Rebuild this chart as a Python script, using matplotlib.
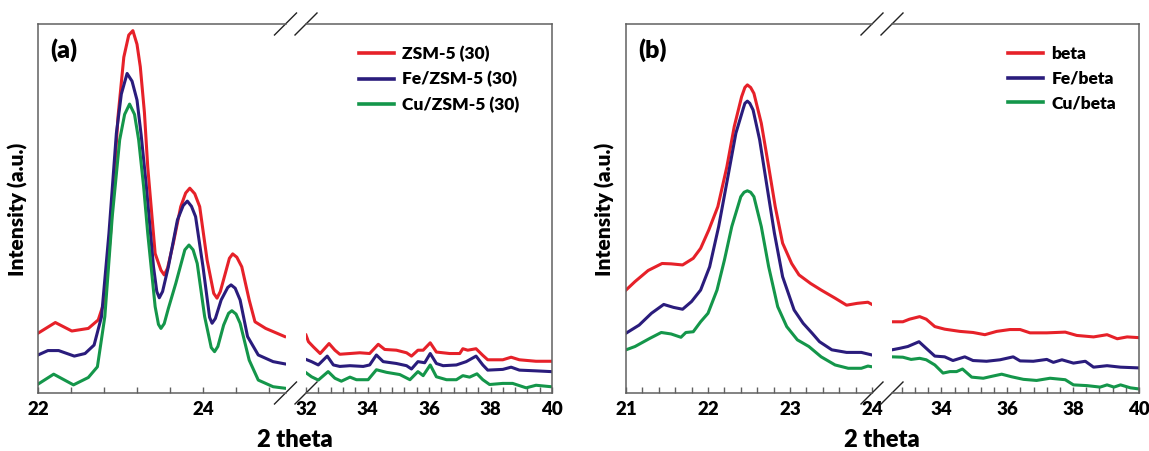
import matplotlib
matplotlib.use("Agg")
import matplotlib.pyplot as plt
from matplotlib.ticker import MultipleLocator, FixedLocator

# ---------------- data: panel (a) ZSM-5 ----------------
a_left_x_red = [22.0, 22.21, 22.41, 22.61, 22.73, 22.81, 22.88, 22.97, 23.04, 23.10, 23.15, 23.20, 23.24,
                23.29, 23.33, 23.42, 23.49, 23.53, 23.57, 23.64, 23.73, 23.79, 23.84, 23.90, 23.96,
                24.05, 24.13, 24.17, 24.21, 24.27, 24.32, 24.36, 24.41, 24.47, 24.56, 24.63, 24.76, 24.99]
a_left_y_red = [16.2, 19.1, 16.8, 17.5, 19.8, 25.2, 43.3, 74.9, 91.0, 97.0, 98.2, 94.5, 88.4,
                76.0, 61.3, 37.8, 33.3, 32.0, 33.8, 40.6, 50.5, 54.2, 55.5, 54.0, 50.5,
                36.0, 27.0, 25.7, 27.5, 32.4, 36.5, 37.7, 36.8, 34.2, 25.2, 19.3, 17.5, 15.3]
a_left_x_fe = [22.0, 22.12, 22.25, 22.44, 22.57, 22.68, 22.77, 22.86, 22.95, 23.01, 23.08, 23.14, 23.2,
               23.25, 23.31, 23.40, 23.44, 23.47, 23.51, 23.58, 23.69, 23.76, 23.81, 23.86, 23.91,
               24.0, 24.08, 24.11, 24.15, 24.22, 24.30, 24.34, 24.39, 24.45, 24.54, 24.67, 24.85, 24.99]
a_left_y_fe = [10.3, 11.5, 11.5, 10.0, 10.7, 13.0, 20.7, 43.3, 70.4, 81.0, 86.6, 84.5, 79.4,
               70.0, 56.8, 34.2, 27.5, 25.8, 27.5, 34.2, 46.9, 50.8, 52.0, 50.6, 47.8,
               34.2, 20.5, 18.9, 20.2, 25.2, 28.6, 29.3, 28.4, 25.2, 15.3, 10.3, 8.5, 7.9]
a_left_x_cu = [22.0, 22.19, 22.43, 22.61, 22.72, 22.81, 22.9, 22.99, 23.05, 23.11, 23.17, 23.22, 23.28,
               23.33, 23.42, 23.46, 23.49, 23.53, 23.58, 23.67, 23.78, 23.83, 23.88, 23.93,
               24.02, 24.10, 24.14, 24.18, 24.25, 24.31, 24.35, 24.40, 24.45, 24.56, 24.67, 24.85, 24.99]
a_left_y_cu = [2.4, 5.1, 2.2, 4.2, 7.1, 20.7, 47.8, 68.6, 75.5, 78.3, 75.5, 68.6, 56.0,
               43.3, 23.4, 18.6, 17.5, 18.8, 22.9, 29.7, 38.8, 40.1, 38.8, 35.1,
               20.7, 12.3, 11.2, 12.6, 18.4, 21.6, 22.3, 21.4, 18.9, 8.9, 3.5, 1.7, 1.3]

a_right_x_red = [32.0, 32.08, 32.24, 32.46, 32.75, 32.94, 33.1, 33.43, 33.75, 34.07, 34.35, 34.56, 34.94,
                 35.27, 35.43, 35.64, 35.81, 36.04, 36.24, 36.67, 37.0, 37.1, 37.26, 37.53, 37.75, 37.91,
                 38.4, 38.67, 38.94, 39.48, 39.97]
a_right_y_red = [15.7, 13.9, 12.5, 10.7, 13.4, 11.6, 10.5, 10.7, 10.9, 10.7, 13.2, 11.8, 11.6,
                 10.9, 10.0, 11.6, 11.6, 13.6, 11.1, 10.7, 10.7, 12.0, 11.6, 12.0, 10.2, 9.0,
                 9.0, 9.7, 9.0, 8.6, 8.6]
a_right_x_fe = [32.0, 32.18, 32.4, 32.69, 32.89, 33.1, 33.43, 33.86, 34.07, 34.29, 34.51, 34.94, 35.27,
                35.43, 35.64, 35.86, 36.04, 36.24, 36.46, 36.89, 37.21, 37.53, 37.75, 37.91, 38.4,
                38.67, 38.94, 39.48, 39.97]
a_right_y_fe = [9.1, 8.5, 7.6, 10.0, 7.6, 7.2, 7.4, 7.2, 7.6, 10.3, 8.5, 8.0, 7.4,
                6.5, 8.5, 8.2, 10.7, 8.0, 7.4, 7.6, 8.5, 10.0, 7.6, 6.2, 6.4,
                7.0, 6.2, 6.0, 5.8]
a_right_x_cu = [32.0, 32.18, 32.4, 32.72, 32.94, 33.15, 33.43, 33.64, 34.02, 34.29, 34.62, 35.05, 35.38,
                35.64, 35.81, 36.04, 36.24, 36.57, 36.89, 37.1, 37.32, 37.56, 37.75, 37.97, 38.4,
                38.72, 39.16, 39.48, 39.97]
a_right_y_cu = [5.5, 4.4, 3.5, 5.8, 4.0, 3.2, 4.3, 3.6, 3.6, 6.3, 5.6, 5.0, 3.6,
                5.8, 4.7, 7.6, 4.4, 3.6, 3.6, 4.7, 4.3, 5.2, 3.6, 2.3, 2.6,
                2.6, 1.4, 2.1, 1.7]

# ---------------- data: panel (b) beta ----------------
b_left_x_red = [21.0, 21.11, 21.27, 21.44, 21.55, 21.69, 21.82, 21.91, 22.01, 22.12, 22.23, 22.32, 22.41,
                22.45, 22.48, 22.52, 22.56, 22.65, 22.74, 22.82, 22.91, 23.02, 23.11, 23.25, 23.38,
                23.55, 23.69, 23.82, 23.95, 24.0]
b_left_y_red = [27.9, 30.2, 33.2, 35.1, 35.0, 34.7, 36.5, 39.2, 44.2, 50.5, 61.3, 72.2, 80.3,
                82.8, 83.5, 82.8, 81.2, 73.1, 61.3, 50.5, 40.6, 35.1, 32.0, 29.7, 27.9,
                25.7, 23.8, 24.3, 24.6, 24.0]
b_left_x_fe = [21.0, 21.16, 21.31, 21.46, 21.58, 21.69, 21.8, 21.91, 22.02, 22.13, 22.25, 22.34, 22.43,
               22.45, 22.48, 22.51, 22.55, 22.63, 22.72, 22.81, 22.91, 23.05, 23.16, 23.27, 23.36,
               23.51, 23.69, 23.87, 24.0]
b_left_y_fe = [16.2, 18.4, 21.6, 24.0, 23.2, 22.7, 24.8, 27.9, 34.2, 45.1, 59.5, 70.4, 77.1,
               78.5, 79.1, 78.5, 76.7, 68.6, 55.9, 43.3, 31.5, 22.5, 18.9, 16.2, 13.9,
               11.7, 11.0, 11.0, 10.3]
b_left_x_cu = [21.0, 21.11, 21.29, 21.43, 21.55, 21.67, 21.73, 21.82, 21.91, 22.0, 22.11, 22.2, 22.29,
               22.40, 22.44, 22.48, 22.52, 22.56, 22.65, 22.74, 22.85, 22.96, 23.09, 23.23, 23.38,
               23.55, 23.71, 23.87, 23.95, 24.0]
b_left_y_cu = [11.7, 12.6, 14.8, 16.4, 16.0, 15.1, 16.4, 16.6, 19.3, 21.6, 27.9, 36.0, 45.1,
               53.2, 54.4, 54.8, 54.4, 53.2, 45.1, 34.2, 23.4, 18.0, 14.4, 12.6, 9.8,
               7.6, 6.7, 6.7, 7.3, 7.1]

b_right_x_red = [32.5, 32.83, 33.03, 33.34, 33.54, 33.80, 34.1, 34.56, 34.96, 35.32, 35.68, 36.08, 36.39,
                 36.69, 37.2, 37.76, 38.11, 38.62, 39.03, 39.34, 39.64, 40.0]
b_right_y_red = [19.3, 19.3, 20.0, 20.7, 20.0, 18.0, 17.3, 16.7, 16.4, 15.8, 16.7, 17.2, 17.2,
                 16.3, 16.3, 16.5, 15.6, 15.2, 15.8, 14.7, 15.2, 15.0]
b_right_x_fe = [32.5, 32.73, 32.98, 33.32, 33.54, 33.8, 34.1, 34.35, 34.71, 34.96, 35.37, 35.78, 36.18,
                36.39, 36.79, 37.2, 37.40, 37.66, 38.01, 38.37, 38.62, 39.03, 39.44, 40.0]
b_right_y_fe = [11.7, 12.1, 12.6, 13.9, 12.1, 10.0, 9.8, 8.8, 9.8, 8.8, 8.6, 9.0, 9.8,
                8.7, 8.6, 9.1, 8.3, 9.0, 8.1, 8.6, 7.0, 7.4, 7.0, 6.8]
b_right_x_cu = [32.5, 32.83, 33.08, 33.34, 33.54, 33.8, 34.05, 34.26, 34.46, 34.64, 34.92, 35.27, 35.57,
                35.83, 36.13, 36.49, 36.89, 37.3, 37.76, 38.01, 38.42, 38.82, 39.03, 39.24, 39.44,
                39.74, 40.0]
b_right_y_cu = [9.8, 9.7, 9.1, 9.4, 9.0, 7.6, 5.4, 5.8, 5.8, 6.5, 4.3, 4.0, 4.6,
                5.1, 4.4, 3.7, 3.4, 4.0, 3.6, 2.2, 2.0, 1.6, 2.2, 1.6, 2.2,
                1.4, 1.1]

labels_a = ["ZSM-5 (30)", "Fe/ZSM-5 (30)", "Cu/ZSM-5 (30)"]
labels_b = ["beta", "Fe/beta", "Cu/beta"]
a_left_ticks = [22, 24]
a_right_ticks = [32, 34, 36, 38, 40]
b_left_ticks = [21, 22, 23, 24]
b_right_ticks = [34, 36, 38, 40]

colors = ["#e62129", "#2a1c7c", "#14964a"]
FONT = "Lato"
SPINE = "#606060"

W, H = 1149, 451
fig = plt.figure(figsize=(W / 100, H / 100), dpi=100)

def px_rect(x0, x1, ytop=24, ybot=393):
    return [x0 / W, 1 - ybot / H, (x1 - x0) / W, (ybot - ytop) / H]

def style_ax(ax, xlim, ticks, minor, side):
    ax.set_xlim(*xlim)
    ax.set_ylim(0, 100)
    ax.set_yticks([])
    ax.xaxis.set_major_locator(FixedLocator(ticks))
    ax.xaxis.set_minor_locator(MultipleLocator(minor))
    ax.tick_params(axis="x", which="both", direction="in", length=4, width=1,
                   color=SPINE, pad=6, labelsize=13.5)
    for lab in ax.get_xticklabels():
        lab.set_fontfamily(FONT)
        lab.set_fontweight("heavy")
    for s in ax.spines.values():
        s.set_color(SPINE)
        s.set_linewidth(1.1)
    ax.spines[side].set_visible(False)
    ax.patch.set_alpha(0)

def breaks(ax, xpos, wpx):
    dx = 11 / wpx
    dy = 11 / 369
    for yy in (0, 1):
        ax.plot([xpos - dx, xpos + dx], [yy - dy, yy + dy], transform=ax.transAxes,
                color="#222222", lw=1.0, clip_on=False)

def panel(lrect, rrect, lxlim, rxlim, lticks, rticks, lminor, rminor,
          lx, ly, rx, ry, labels, tag, leg_x, label_cx, ylab_x):
    axl = fig.add_axes(px_rect(*lrect))
    axr = fig.add_axes(px_rect(*rrect))
    for i in range(3):
        axl.plot(lx[i], ly[i], color=colors[i], lw=2.2, solid_joinstyle="round")
        axr.plot(rx[i], ry[i], color=colors[i], lw=2.2, solid_joinstyle="round", label=labels[i])
    style_ax(axl, lxlim, lticks, lminor, "right")
    style_ax(axr, rxlim, rticks, rminor, "left")
    breaks(axl, 1, lrect[1] - lrect[0])
    breaks(axr, 0, rrect[1] - rrect[0])
    axl.text(0.048, 0.96, tag, transform=axl.transAxes, ha="left", va="top",
             fontsize=18, fontweight="heavy", family=FONT)
    leg = axr.legend(loc="upper left", bbox_to_anchor=(leg_x, 0.94), frameon=False,
                     handlelength=2.0, handletextpad=0.5, labelspacing=0.5, borderpad=0,
                     borderaxespad=0, prop={"family": FONT, "weight": "heavy", "size": 12.5})
    for h in leg.get_lines():
        h.set_linewidth(2.6)
    fig.text(label_cx / W, 1 - 440 / H, "2 theta", ha="center", va="center",
             fontsize=17, fontweight="heavy", family=FONT)
    fig.text(ylab_x / W, 1 - 209 / H, "Intensity (a.u.)", ha="center", va="center",
             rotation=90, fontsize=15, fontweight="heavy", family=FONT)

panel((38, 285.5), (306, 552), (22, 25), (32, 40), a_left_ticks, a_right_ticks, 0.4, 0.4,
      [a_left_x_red, a_left_x_fe, a_left_x_cu], [a_left_y_red, a_left_y_fe, a_left_y_cu],
      [a_right_x_red, a_right_x_fe, a_right_x_cu], [a_right_y_red, a_right_y_fe, a_right_y_cu],
      labels_a, "(a)", 0.215, 295, 18)

panel((626, 872), (892, 1139), (21, 24), (32.5, 40), b_left_ticks, b_right_ticks, 0.2, 0.4,
      [b_left_x_red, b_left_x_fe, b_left_x_cu], [b_left_y_red, b_left_y_fe, b_left_y_cu],
      [b_right_x_red, b_right_x_fe, b_right_x_cu], [b_right_y_red, b_right_y_fe, b_right_y_cu],
      labels_b, "(b)", 0.47, 882, 605)

fig.savefig("out.png", dpi=100)
